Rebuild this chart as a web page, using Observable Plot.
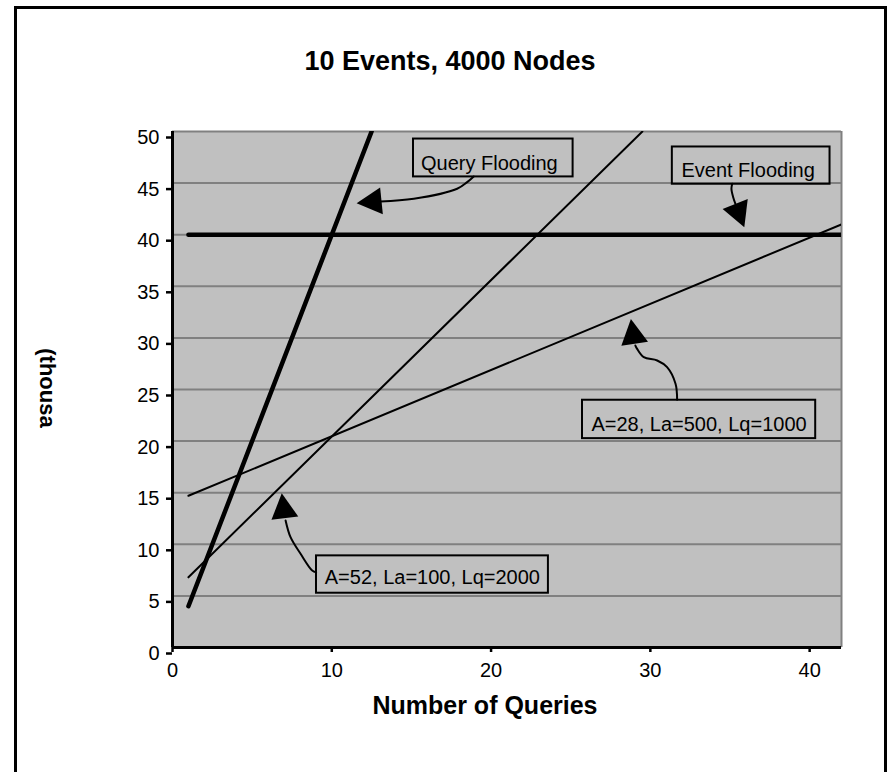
<!DOCTYPE html>
<html>
<head>
<meta charset="utf-8">
<script src="https://cdn.jsdelivr.net/npm/d3@7"></script>
<script src="https://cdn.jsdelivr.net/npm/@observablehq/plot@0.6"></script>
<style>
  body { margin: 0; background: #fff; }
  #wrap { position: relative; width: 890px; height: 772px; overflow: hidden;
          font-family: "Liberation Sans", Arial, sans-serif; color: #000; }
  #border { position: absolute; left: 14px; top: 6px; width: 867px; height: 820px;
            border: 3px solid #000; box-sizing: content-box; }
  #chart { position: absolute; left: 0; top: 0; }
  .title { position: absolute; font-weight: bold; white-space: nowrap; line-height: 1; }
  #main-title { left: 0; width: 900px; top: 48px; text-align: center; font-size: 27px; }
  #x-title { left: 0; width: 970px; top: 693px; text-align: center; font-size: 25px; }
  #y-title { left: 47px; top: 388px; font-size: 22px; transform: translate(-50%, -50%) rotate(90deg); }
</style>
</head>
<body>
<div id="wrap">
  <div id="border"></div>
  <div id="chart"></div>
  <div class="title" id="main-title">10 Events, 4000 Nodes</div>
  <div class="title" id="x-title">Number of Queries</div>
  <div class="title" id="y-title">(thousa</div>
</div>
<script>
// Message traffic (thousands) versus number of queries, per strategy
const queryFloodingX = [1, 12.5];
const queryFloodingY = [4, 50];
const eventFloodingX = [1, 42];
const eventFloodingY = [40, 40];
const a52X = [1, 29.5];
const a52Y = [6.8, 50];
const a28X = [1, 42];
const a28Y = [14.7, 41];

const xTicks = [0, 10, 20, 30, 40];
const yTicks = [0, 5, 10, 15, 20, 25, 30, 35, 40, 45, 50];
const gridY = [5, 10, 15, 20, 25, 30, 35, 40, 45, 50];

const toPoints = (name, xs, ys) => xs.map((x, i) => ({name, x, y: ys[i]}));
const thickSeries = [
  ...toPoints("Query Flooding", queryFloodingX, queryFloodingY),
  ...toPoints("Event Flooding", eventFloodingX, eventFloodingY)
];
const thinSeries = [
  ...toPoints("A=52, La=100, Lq=2000", a52X, a52Y),
  ...toPoints("A=28, La=500, Lq=1000", a28X, a28Y)
];

// Callout boxes, labels and curved pointers (data units)
const callouts = [
  {label: "Query Flooding", box: [15.13, 25.15, 45.6, 49.27], text: [15.6, 46.3],
   path: [[18.91, 45.64], [18.5, 45.09], [17.87, 44.45], [15.15, 43.48], [13.06, 43.22]],
   tip: [11.59, 42.99]},
  {label: "Event Flooding", box: [31.38, 41.28, 44.89, 48.5], text: [31.95, 45.6],
   path: [[35.14, 44.93], [35.09, 44.45], [35.2, 43.63], [35.34, 42.99]],
   tip: [35.93, 40.67]},
  {label: "A=28, La=500, Lq=1000", box: [25.74, 40.38, 20.24, 23.96], text: [26.3, 20.99],
   path: [[31.68, 24.0], [31.58, 25.55], [31.05, 27.16], [30.43, 27.81], [29.59, 28.13], [29.17, 28.94], [29.06, 29.26]],
   tip: [28.81, 31.78]},
  {label: "A=52, La=100, Lq=2000", box: [9.04, 23.6, 5.26, 8.88], text: [9.56, 6.13],
   path: [[9.02, 7.3], [8.77, 7.46], [8.04, 9.08], [7.41, 10.69], [7.1, 12.31]],
   tip: [6.89, 14.89]}
];
const shaftPoints = callouts.flatMap((c, k) => c.path.map(([x, y]) => ({k, x, y})));

const font = "Liberation Sans, Arial, sans-serif";

const chart = Plot.plot({
  width: 890,
  height: 772,
  marginLeft: 172,
  marginRight: 49,
  marginTop: 131,
  marginBottom: 125,
  x: {domain: [0, 42]},
  y: {domain: [0, 50]},
  style: {fontFamily: font, background: "transparent", color: "#000"},
  marks: [
    Plot.frame({fill: "#c0c0c0", stroke: null}),
    Plot.ruleY(gridY, {stroke: "#808080", strokeWidth: 2}),
    Plot.ruleX([42], {stroke: "#808080", strokeWidth: 2}),
    Plot.line(thinSeries, {x: "x", y: "y", z: "name", stroke: "#000", strokeWidth: 2, clip: true}),
    Plot.line(thickSeries, {x: "x", y: "y", z: "name", stroke: "#000", strokeWidth: 4.5,
                            strokeLinecap: "round", clip: true}),
    Plot.ruleX([0], {stroke: "#000", strokeWidth: 3}),
    Plot.ruleY([0], {stroke: "#000", strokeWidth: 3}),
    Plot.axisY(yTicks, {tickSize: 6, tickPadding: 7, fontSize: 20, dy: 6, strokeWidth: 2.5, label: null}),
    Plot.axisX(xTicks, {tickSize: 5, tickPadding: 10, fontSize: 20, strokeWidth: 2.5, label: null}),
    Plot.rect(callouts, {x1: d => d.box[0], x2: d => d.box[1], y1: d => d.box[2], y2: d => d.box[3],
                         fill: "none", stroke: "#000", strokeWidth: 2}),
    Plot.text(callouts, {x: d => d.text[0], y: d => d.text[1], text: "label", textAnchor: "start",
                         lineAnchor: "bottom", fontSize: 20, fill: "#000"}),
    Plot.line(shaftPoints, {x: "x", y: "y", z: "k", stroke: "#000", strokeWidth: 2, curve: "catmull-rom"})
  ]
});

// Filled arrowheads at the end of each pointer, placed through the plot's scales
const sx = chart.scale("x"), sy = chart.scale("y");
const X = d3.scaleLinear(sx.domain, sx.range);
const Y = d3.scaleLinear(sy.domain, sy.range);
const heads = d3.select(chart).append("g").attr("fill", "#000");
for (const c of callouts) {
  const [fx, fy] = c.path[c.path.length - 1];
  const tx = X(c.tip[0]), ty = Y(c.tip[1]);
  const dx = tx - X(fx), dy = ty - Y(fy);
  const len = Math.hypot(dx, dy), ux = dx / len, uy = dy / len;
  const bx = tx - 25 * ux, by = ty - 25 * uy;
  const nx = -uy, ny = ux;
  heads.append("path").attr("d",
    `M${tx},${ty}L${bx + 13.5 * nx},${by + 13.5 * ny}L${bx - 13.5 * nx},${by - 13.5 * ny}Z`);
}

document.getElementById("chart").append(chart);
</script>
</body>
</html>
